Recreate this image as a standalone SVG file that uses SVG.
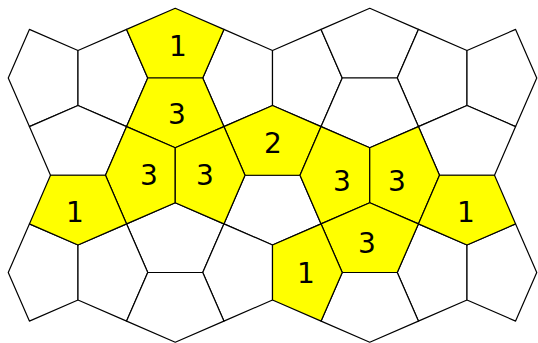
<svg xmlns="http://www.w3.org/2000/svg" width="538" height="343" viewBox="0 0 538 343">
<style>
polygon{stroke:#000;stroke-width:1.2;stroke-linejoin:round}
.w{fill:#fff}
.y{fill:#ff0}
text{font-family:"DejaVu Sans",Verdana,sans-serif;font-size:28px;fill:#000;text-anchor:middle}
</style>
<rect width="538" height="343" fill="#fff"/>
<g id="tiles">
<g id="pA"><polygon class="w" points="78,50.5 29.4,29.4 8.25,78 29.4,126.6 78,105.5"/></g>
<g id="pB"><polygon class="w" points="78,50.5 126.6,29.4 147.75,78 126.6,126.6 78,105.5"/></g>
<g id="pD"><polygon class="w" points="272.5,50.5 223.9,29.4 202.75,78 223.9,126.6 272.5,105.5"/></g>
<g id="pE"><polygon class="w" points="272.5,50.5 321.1,29.4 342.25,78 321.1,126.6 272.5,105.5"/></g>
<g id="pF"><polygon class="w" points="321.1,29.4 369.75,8.25 418.4,29.4 397.25,78 342.25,78"/></g>
<g id="pG"><polygon class="w" points="467,50.5 418.4,29.4 397.25,78 418.4,126.6 467,105.5"/></g>
<g id="pH"><polygon class="w" points="467,50.5 515.6,29.4 536.75,78 515.6,126.6 467,105.5"/></g>
<g id="pI"><polygon class="w" points="78,105.5 126.6,126.6 105.5,175.25 50.5,175.25 29.4,126.6"/></g>
<g id="pL"><polygon class="w" points="342.25,78 397.25,78 418.4,126.6 369.75,147.75 321.1,126.6"/></g>
<g id="pM"><polygon class="w" points="467,105.5 515.6,126.6 494.5,175.25 439.5,175.25 418.4,126.6"/></g>
<g id="pS"><polygon class="w" points="175.25,202.75 223.9,223.9 202.75,272.5 147.75,272.5 126.6,223.9"/></g>
<g id="pT"><polygon class="w" points="245,175.25 300,175.25 321.1,223.9 272.5,245 223.9,223.9"/></g>
<g id="pW"><polygon class="w" points="78,245 29.4,223.9 8.25,272.5 29.4,321.1 78,300"/></g>
<g id="pX"><polygon class="w" points="78,245 126.6,223.9 147.75,272.5 126.6,321.1 78,300"/></g>
<g id="pY"><polygon class="w" points="272.5,245 223.9,223.9 202.75,272.5 223.9,321.1 272.5,300"/></g>
<g id="pAA"><polygon class="w" points="467,245 418.4,223.9 397.25,272.5 418.4,321.1 467,300"/></g>
<g id="pAB"><polygon class="w" points="467,245 515.6,223.9 536.75,272.5 515.6,321.1 467,300"/></g>
<g id="pAC"><polygon class="w" points="147.75,272.5 202.75,272.5 223.9,321.1 175.25,342.25 126.6,321.1"/></g>
<g id="pAD"><polygon class="w" points="342.25,272.5 397.25,272.5 418.4,321.1 369.75,342.25 321.1,321.1"/></g>

<g id="pC"><polygon class="y" points="126.6,29.4 175.25,8.25 223.9,29.4 202.75,78 147.75,78"/><text x="178" y="56">1</text></g>
<g id="pJ"><polygon class="y" points="147.75,78 202.75,78 223.9,126.6 175.25,147.75 126.6,126.6"/><text x="177" y="124">3</text></g>
<g id="pK"><polygon class="y" points="272.5,105.5 321.1,126.6 300,175.25 245,175.25 223.9,126.6"/><text x="273" y="153">2</text></g>
<g id="pN"><polygon class="y" points="175.25,147.75 126.6,126.6 105.5,175.25 126.6,223.9 175.25,202.75"/><text x="149" y="185">3</text></g>
<g id="pO"><polygon class="y" points="175.25,147.75 223.9,126.6 245,175.25 223.9,223.9 175.25,202.75"/><text x="205" y="185">3</text></g>
<g id="pP"><polygon class="y" points="369.75,147.75 321.1,126.6 300,175.25 321.1,223.9 369.75,202.75"/><text x="342" y="191">3</text></g>
<g id="pQ"><polygon class="y" points="369.75,147.75 418.4,126.6 439.5,175.25 418.4,223.9 369.75,202.75"/><text x="397" y="191">3</text></g>
<g id="pR"><polygon class="y" points="50.5,175.25 105.5,175.25 126.6,223.9 78,245 29.4,223.9"/><text x="75" y="222">1</text></g>
<g id="pU"><polygon class="y" points="369.75,202.75 418.4,223.9 397.25,272.5 342.25,272.5 321.1,223.9"/><text x="367" y="253">3</text></g>
<g id="pV"><polygon class="y" points="439.5,175.25 494.5,175.25 515.6,223.9 467,245 418.4,223.9"/><text x="466" y="222">1</text></g>
<g id="pZ"><polygon class="y" points="272.5,245 321.1,223.9 342.25,272.5 321.1,321.1 272.5,300"/><text x="306" y="283">1</text></g>
</g>
<g id="connectors"/>
</svg>
